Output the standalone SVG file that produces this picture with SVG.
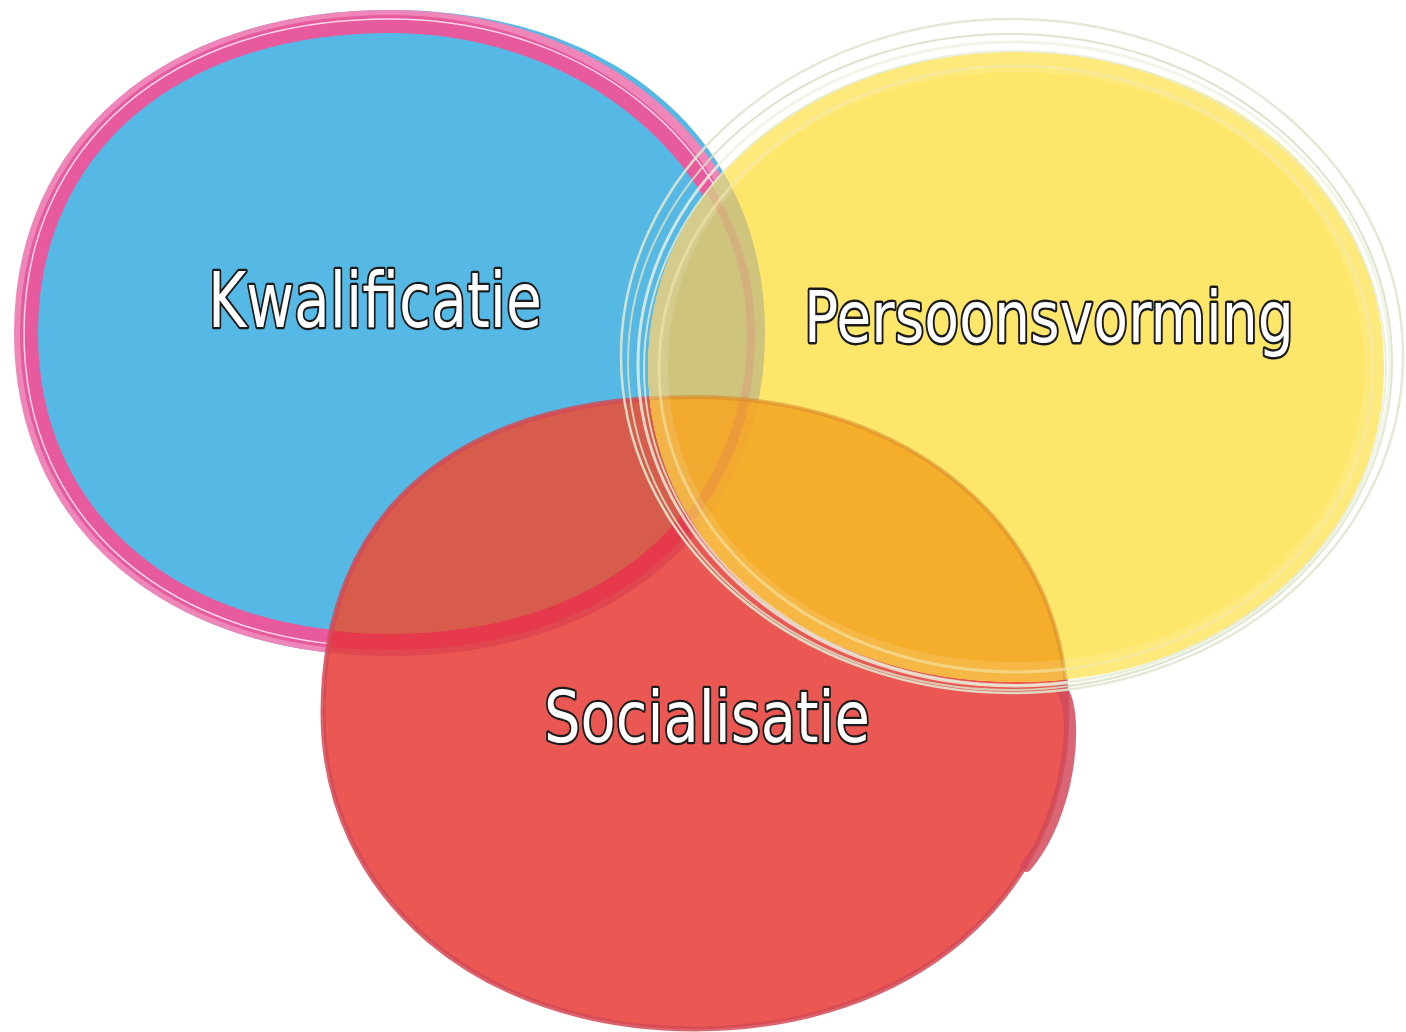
<svg xmlns="http://www.w3.org/2000/svg" width="1406" height="1032" viewBox="0 0 1406 1032">
  <style>
    .lbl { font-family: "DejaVu Sans", "Liberation Sans", sans-serif; fill: #ffffff; stroke: #1c1c1c; stroke-width: 4.5; stroke-linejoin: round; paint-order: stroke fill; }
    .ring { fill: none; }
  </style>
  <defs>
    <path id="pB" d="M765,333 C765,526.8 615,656 390,656 C165,656 15,526.8 15,333 C15,139.2 165,10 390,10 C615,10 765,139.2 765,333 Z"/>
    <path id="pR" d="M1067,713 C1067,896.3 910.8,1029 695,1029 C479.2,1029 323,896.3 323,713 C323,510.8 456.9,397 695,397 C910.8,397 1067,529.7 1067,713 Z"/>
    <path id="pY" d="M1384,367 C1384,546.6 1225.8,682 1016,682 C806.2,682 648,546.6 648,367 C648,187.4 806.2,52 1016,52 C1225.8,52 1384,187.4 1384,367 Z"/>
    <path id="pPm" d="M751,333 C751,518.4 606.6,642 390,642 C173.4,642 29,518.4 29,333 C29,147.6 173.4,24 390,24 C588.6,24 751,163 751,333 Z"/>
    <path id="pPo" d="M761,333 C761,523.8 612.6,651 390,651 C167.4,651 19,523.8 19,333 C19,142.2 167.4,15 390,15 C601.5,15 761,151.7 761,333 Z"/>
    <path id="pPw" d="M756,333 C756,521.4 609.6,647 390,647 C170.4,647 24,521.4 24,333 C24,144.6 170.4,19 390,19 C595,19 756,157.2 756,333 Z"/>
    <clipPath id="cR"><path d="M1067,713 C1067,896.3 910.8,1029 695,1029 C479.2,1029 323,896.3 323,713 C323,510.8 456.9,397 695,397 C910.8,397 1067,529.7 1067,713 Z"/></clipPath>
    <clipPath id="cY"><path d="M1384,367 C1384,546.6 1225.8,682 1016,682 C806.2,682 648,546.6 648,367 C648,187.4 806.2,52 1016,52 C1225.8,52 1384,187.4 1384,367 Z"/></clipPath>
  </defs>

  <rect width="1406" height="1032" fill="#ffffff"/>

  <g id="node-kwalificatie-shape">
    <use href="#pB" fill="#55B8E5"/>
    <use href="#pPo" class="ring" stroke="#EE86B9" stroke-width="10"/>
    <use href="#pPm" class="ring" stroke="#E75A9D" stroke-width="18"/>
    <use href="#pPw" class="ring" stroke="#ffffff" stroke-width="1.5" opacity="0.75"/>
  </g>

  <g id="node-socialisatie-shape">
    <use href="#pR" fill="#EB5753"/>
  </g>

  <g id="overlap-red-blue" clip-path="url(#cR)">
    <use href="#pB" fill="#D75C4B"/>
    <use href="#pPo" class="ring" stroke="#E2424F" stroke-width="10" opacity="0.8"/>
    <use href="#pPm" class="ring" stroke="#E6394B" stroke-width="16"/>
  </g>
  <use href="#pR" class="ring" stroke="#D44A55" stroke-width="5" opacity="0.85"/>
  <path class="ring" d="M1062,690 C1072,705 1073,745 1064,785 C1056,818 1044,845 1026,866" stroke="#D44A5C" stroke-width="12" opacity="0.85" stroke-linecap="round"/>

  <g id="node-persoonsvorming-shape">
    <use href="#pY" fill="#FEE66B"/>
  </g>

  <g id="overlaps-yellow" clip-path="url(#cY)">
    <use href="#pB" fill="#CEC47E"/>
    <use href="#pPm" class="ring" stroke="#E08C78" stroke-width="8" opacity="0.35"/>
    <use href="#pR" fill="#F5AE2C"/>
    <g clip-path="url(#cR)">
      <use href="#pB" fill="#F1A92F"/>
      <use href="#pPm" class="ring" stroke="#E8864A" stroke-width="10" opacity="0.4"/>
    </g>
    <use href="#pR" class="ring" stroke="#D98A2A" stroke-width="4" opacity="0.6"/>
    <use href="#pY" class="ring" stroke="#ffffff" stroke-width="40" opacity="0.12"/>
  </g>

  <g id="yellow-rings">
    <ellipse class="ring" cx="1012" cy="356" rx="391" ry="337" stroke="#DFE7CF" stroke-width="2.5" opacity="0.9"/>
    <ellipse class="ring" cx="1010" cy="362" rx="382" ry="328" stroke="#D6E1C3" stroke-width="2" opacity="0.85"/>
    <ellipse class="ring" cx="1014" cy="364" rx="376" ry="322" stroke="#EEF2E2" stroke-width="3" opacity="0.8"/>
    <ellipse class="ring" cx="1015" cy="368" rx="371" ry="317" stroke="#E5ECD5" stroke-width="2" opacity="0.8"/>
    <ellipse class="ring" cx="1016" cy="369" rx="357" ry="303" stroke="#F3EBB2" stroke-width="3" opacity="0.55"/>
  </g>

  <g id="node-kwalificatie">
    <text class="lbl" x="208" y="327" font-size="76" textLength="334" lengthAdjust="spacingAndGlyphs">Kwalificatie</text>
  </g>
  <g id="node-persoonsvorming">
    <text class="lbl" transform="translate(804,342) scale(1,1.08)" x="0" y="0" font-size="66" textLength="490" lengthAdjust="spacingAndGlyphs">Persoonsvorming</text>
  </g>
  <g id="node-socialisatie">
    <text class="lbl" x="544" y="742" font-size="72" textLength="326" lengthAdjust="spacingAndGlyphs">Socialisatie</text>
  </g>

  <g id="connectors"></g>
</svg>
